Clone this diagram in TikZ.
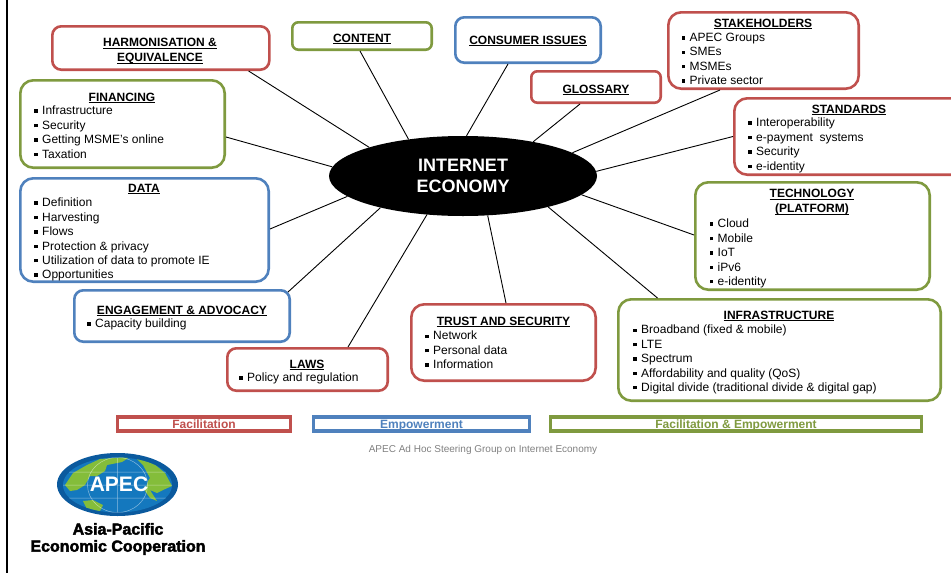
\documentclass[tikz,border=0pt]{standalone}
\usepackage{fontspec}
\setmainfont{Liberation Sans}
\newfontfamily\logofont[BoldFeatures={FakeBold=2.5}]{Liberation Sans}
\usetikzlibrary{shapes.geometric}
\definecolor{apecred}{HTML}{C0504D}
\definecolor{apecblue}{HTML}{4F81BD}
\definecolor{apecgreen}{HTML}{7F9A3F}
\definecolor{ocean}{HTML}{1478BE}
\definecolor{oceanring}{HTML}{0B5A9E}
\definecolor{land}{HTML}{84BD3A}
\newcommand{\sqitem}{\makebox[8pt][l]{\rule[2pt]{3.4pt}{3.4pt}}}
\newcommand{\headtext}[1]{\setbox0=\hbox{#1}\smash{\rlap{\rule[-2.4pt]{\wd0}{1pt}}\box0}}
\begin{document}
\begin{tikzpicture}[x=1pt,y=-1pt,
  areabox/.style={draw=#1,line width=2.6pt,rounded corners=13pt,fill=white,anchor=north west,inner sep=0pt},
  legendbox/.style={draw=#1,line width=3.4pt,fill=white,inner sep=0pt,text=#1,text height=9.6pt,text depth=1.6pt,font=\fontsize{12}{14}\selectfont\bfseries},
  headnode/.style={inner sep=0pt,align=center,yshift=-5pt,font=\fontsize{12}{14.4}\selectfont\bfseries},
  itemnode/.style={inner sep=0pt,align=left,anchor=north west,font=\fontsize{12}{14.4}\selectfont},
  spoke/.style={draw=black,line width=0.9pt}]
\path[use as bounding box,clip] (0,0) rectangle (951,573);
\draw [black,line width=2.4pt] (7,0) -- (7,573);
\node [ellipse,fill=black,minimum width=268pt,minimum height=80pt,inner sep=0pt,text=white,align=center,font=\fontsize{18}{21.5}\selectfont\bfseries] (hub) at (463,176) {INTERNET\\ECONOMY};
\node [areabox=apecred,rounded corners=9pt,minimum width=217pt,minimum height=43.4pt] (harm) at (51,25) {};
\node [areabox=apecgreen,rounded corners=6pt,minimum width=139.4pt,minimum height=27.4pt] (content) at (291,21) {};
\node [areabox=apecblue,rounded corners=9pt,minimum width=145.4pt,minimum height=45.4pt] (consumer) at (454,16) {};
\node [areabox=apecred,rounded corners=6pt,minimum width=129.4pt,minimum height=31.4pt] (glossary) at (530,70) {};
\node [areabox=apecred,minimum width=190.4pt,minimum height=76.4pt] (stake) at (667,11) {};
\node [areabox=apecred,minimum width=240pt,minimum height=76.4pt] (standards) at (733,97) {};
\node [areabox=apecgreen,minimum width=234.4pt,minimum height=107.4pt] (tech) at (694,181) {};
\node [areabox=apecgreen,minimum width=322.4pt,minimum height=101.4pt] (infra) at (617,298) {};
\node [areabox=apecred,minimum width=184.4pt,minimum height=76.4pt] (trust) at (410,303) {};
\node [areabox=apecred,rounded corners=9pt,minimum width=160.4pt,minimum height=42.4pt] (laws) at (226,347) {};
\node [areabox=apecblue,rounded corners=9pt,minimum width=215.4pt,minimum height=51.4pt] (engage) at (73,289) {};
\node [areabox=apecblue,minimum width=248.4pt,minimum height=103.4pt] (data) at (19,177) {};
\node [areabox=apecgreen,minimum width=204.4pt,minimum height=87.4pt] (fin) at (19,79) {};
\draw [spoke] ([xshift=-22pt]harm.south east) -- (hub.163);
\draw [spoke] ([yshift=-13pt]fin.east) -- (hub.176.6);
\draw [spoke] ([xshift=-2pt]content.south) -- (hub.146.5);
\draw [spoke] ([xshift=-20pt]consumer.south) -- (hub.85.7);
\draw [spoke] ([xshift=-16pt]glossary.south) -- (hub.26.6);
\draw [spoke] ([xshift=-43.5pt]stake.south) -- (hub.12.1);
\draw [spoke] (standards.west) -- (hub.2.6);
\draw [spoke] ([yshift=1pt]tech.west) -- (hub.-9.1);
\draw [spoke] ([xshift=-122pt]infra.north) -- (hub.-20.9);
\draw [spoke] ([xshift=2.5pt]trust.north) -- (hub.-58.4);
\draw [spoke] ([xshift=40.5pt]laws.north) -- (hub.-133.4);
\draw [spoke] ([xshift=-3pt,yshift=-3pt]engage.north east) -- (hub.-159.7);
\draw [spoke] ([yshift=1pt]data.east) -- (hub.-170.7);
\node [headnode] (harmhead) at (160,49) {\headtext{HARMONISATION \&}\\\headtext{EQUIVALENCE}};
\node [headnode] (contenthead) at (362,37) {\headtext{CONTENT}};
\node [headnode] (consumerhead) at (528,39) {\headtext{CONSUMER ISSUES}};
\node [headnode] (glossaryhead) at (596,88) {\headtext{GLOSSARY}};
\node [headnode] (stakehead) at (763,22) {\headtext{STAKEHOLDERS}};
\node [itemnode] (stakeitems) at (681.5,33) {\sqitem APEC Groups\\\sqitem SMEs\\\sqitem MSMEs\\\sqitem Private sector};
\node [headnode] (standardshead) at (849,108) {\headtext{STANDARDS}};
\node [itemnode] (standardsitems) at (748,118) {\sqitem Interoperability\\\sqitem e-payment\ \ systems\\\sqitem Security\\\sqitem e-identity};
\node [headnode] (techhead) at (812,200) {\headtext{TECHNOLOGY}\\\headtext{(PLATFORM)}};
\node [itemnode] (techitems) at (709.5,219) {\sqitem Cloud\\\sqitem Mobile\\\sqitem IoT\\\sqitem iPv6\\\sqitem e-identity};
\node [headnode] (infrahead) at (779,314) {\headtext{INFRASTRUCTURE}};
\node [itemnode] (infraitems) at (633,325) {\sqitem Broadband (fixed \& mobile)\\\sqitem LTE\\\sqitem Spectrum\\\sqitem Affordability and quality (QoS)\\\sqitem Digital divide (traditional divide \& digital gap)};
\node [headnode] (trusthead) at (503.5,320) {\headtext{TRUST AND SECURITY}};
\node [itemnode] (trustitems) at (425,331) {\sqitem Network\\\sqitem Personal data\\\sqitem Information};
\node [headnode] (lawshead) at (307,363) {\headtext{LAWS}};
\node [itemnode] (lawsitems) at (239,373) {\sqitem Policy and regulation};
\node [headnode] (engagehead) at (182,309) {\headtext{ENGAGEMENT \& ADVOCACY}};
\node [itemnode] (engageitems) at (87,319) {\sqitem Capacity building};
\node [headnode] (datahead) at (144,187) {\headtext{DATA}};
\node [itemnode] (dataitems) at (34,198) {\sqitem Definition\\\sqitem Harvesting\\\sqitem Flows\\\sqitem Protection \& privacy\\\sqitem Utilization of data to promote IE\\\sqitem Opportunities};
\node [headnode] (finhead) at (122,96) {\headtext{FINANCING}};
\node [itemnode] (finitems) at (34,106) {\sqitem Infrastructure\\\sqitem Security\\\sqitem Getting MSME's online\\\sqitem Taxation};
\node [legendbox=apecred,minimum width=173pt,minimum height=14pt] (facil) at (204,424) {Facilitation};
\node [legendbox=apecblue,minimum width=216pt,minimum height=14pt] (empower) at (421.5,424) {Empowerment};
\node [legendbox=apecgreen,minimum width=371pt,minimum height=14pt] (both) at (736,424) {Facilitation \& Empowerment};
\node [inner sep=0pt,text=black!50,font=\fontsize{10}{12}\selectfont] (footer) at (483,450) {APEC Ad Hoc Steering Group on Internet Economy};
\fill [oceanring] (117.5,484.5) ellipse (60.5 and 31.5);
\begin{scope}
\clip (117.5,485) ellipse (54.5 and 27.5);
\fill [ocean] (60,455) rectangle (175,515);
\fill [land] (65,485) -- (73,473) -- (87,465) -- (100,459) -- (130,457) -- (122,462) -- (107,465) -- (105,471) -- (97,476) -- (90,476) -- (85,485) -- (77,490) -- (70,491) -- cycle;
\fill [land] (135,457) -- (153,463) -- (165,473) -- (172,486) -- (163,490) -- (157,493) -- (150,490) -- (157,501) -- (150,498) -- (145,491) -- (148,481) -- (150,478) -- (143,465) -- cycle;
\fill [land] (83,501) -- (93,500) -- (103,505) -- (100,511) -- (88,511) -- cycle;
\draw [white,opacity=0.5,line width=0.5pt] (117.5,457) -- (117.5,513) (63,485) -- (172,485) (68,472) -- (167,472) (68,498) -- (167,498) (117.5,485) ellipse (30 and 27.5);
\end{scope}
\node [inner sep=0pt,text=white,font=\fontsize{21}{23}\selectfont\bfseries] (logoname) at (119,484) {APEC};
\node [inner sep=0pt,align=center,font=\fontsize{16}{17}\logofont\bfseries] (logotext) at (118,539) {Asia-Pacific\\Economic Cooperation};
\end{tikzpicture}
\end{document}
